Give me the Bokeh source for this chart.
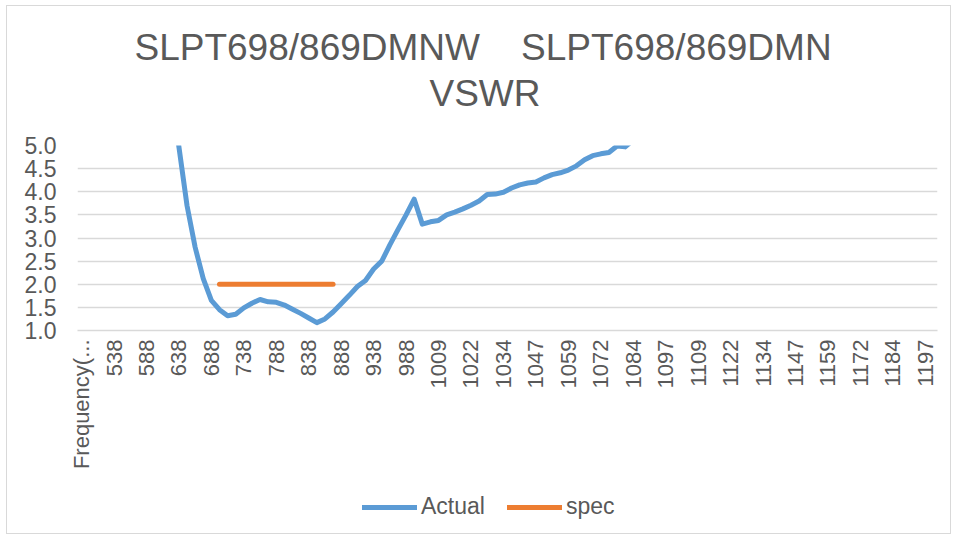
import json
import math
from bokeh.plotting import figure
from bokeh.layouts import column
from bokeh.models import (ColumnDataSource, FactorRange, Range1d, FixedTicker,
                          PrintfTickFormatter, Legend, LegendItem, Title,
                          CustomJSTickFormatter)
from bokeh.embed import file_html
from bokeh.resources import INLINE

# ---------------- data ----------------
header = "Frequency(MHz)"
header_label = "Frequency(..."

freqs = [500, 512.5, 525, 537.5, 550, 562.5, 575, 587.5, 600, 612.5, 625, 637.5,
         650, 662.5, 675, 687.5, 700, 712.5, 725, 737.5, 750, 762.5, 775, 787.5,
         800, 812.5, 825, 837.5, 850, 862.5, 875, 887.5, 900, 912.5, 925, 937.5,
         950, 962.5, 975, 987.5, 1000,
         1003.125, 1006.25, 1009.375, 1012.5, 1015.625, 1018.75, 1021.875, 1025,
         1028.125, 1031.25, 1034.375, 1037.5, 1040.625, 1043.75, 1046.875, 1050,
         1053.125, 1056.25, 1059.375, 1062.5, 1065.625, 1068.75, 1071.875, 1075,
         1078.125, 1081.25, 1084.375, 1087.5, 1090.625, 1093.75, 1096.875, 1100,
         1103.125, 1106.25, 1109.375, 1112.5, 1115.625, 1118.75, 1121.875, 1125,
         1128.125, 1131.25, 1134.375, 1137.5, 1140.625, 1143.75, 1146.875, 1150,
         1153.125, 1156.25, 1159.375, 1162.5, 1165.625, 1168.75, 1171.875, 1175,
         1178.125, 1181.25, 1184.375, 1187.5, 1190.625, 1193.75, 1196.875, 1200]

N = None
actual = [N, N, N, N, N, N, N, N, N, N,
          6.3, 4.97, 3.7, 2.8, 2.12, 1.65, 1.45, 1.32, 1.35, 1.49,
          1.59, 1.67, 1.62, 1.61, 1.55, 1.46, 1.37, 1.27, 1.17, 1.25,
          1.40, 1.58, 1.76, 1.95, 2.08, 2.33, 2.5, 2.85, 3.18, 3.5,
          3.84, 3.30, 3.35, 3.38, 3.5, 3.56, 3.63, 3.71, 3.80, 3.94,
          3.95, 3.99, 4.08, 4.15, 4.19, 4.21, 4.30, 4.37, 4.41, 4.47,
          4.56, 4.69, 4.78, 4.82, 4.85, 4.99, 4.97, 5.12,
          N, N, N, N, N, N, N, N, N, N, N, N, N, N, N, N, N, N, N,
          N, N, N, N, N, N, N, N, N, N, N, N, N, N, N, N, N, N]

spec_freqs = [700, 712.5, 725, 737.5, 750, 762.5, 775, 787.5, 800, 812.5,
              825, 837.5, 850, 862.5, 875]
spec_vals = [2.0, 2.0, 2.0, 2.0, 2.0, 2.0, 2.0, 2.0, 2.0, 2.0,
             2.0, 2.0, 2.0, 2.0, 2.0]

y_ticks = [1.0, 1.5, 2.0, 2.5, 3.0, 3.5, 4.0, 4.5, 5.0]
NB = "\u00a0"
title_line1 = "SLPT698/869DMNW" + NB * 4 + "SLPT698/869DMN"
title_line2 = "VSWR"
series_names = ["Actual", "spec"]
series_colors = ["#5B9BD5", "#ED7D31"]


def fkey(f):
    return ("%.3f" % f).rstrip("0").rstrip(".")


factors = [header] + [fkey(f) for f in freqs]
tick_labels = {}
for i, fac in enumerate(factors):
    if i == 0:
        tick_labels[fac] = header_label
    elif i % 4 == 0:
        tick_labels[fac] = str(int(freqs[i - 1] + 0.5))

src_actual = ColumnDataSource(dict(
    x=[fkey(f) for f in freqs],
    y=[float("nan") if v is None else v for v in actual]))
src_spec = ColumnDataSource(dict(x=[fkey(f) for f in spec_freqs], y=spec_vals))

TXT = "#595959"
FONT = "Liberation Sans"
W = 943
H1 = 470
H2 = 57

p = figure(width=W, height=H1, output_backend="svg", toolbar_location=None,
           x_range=FactorRange(*factors, range_padding=0),
           y_range=Range1d(1.0, 5.0),
           min_border_left=70, min_border_right=13,
           min_border_top=139, min_border_bottom=H1 - 324)
p.title = None
p.outline_line_color = None
p.background_fill_color = "white"
p.border_fill_color = "white"

r1 = p.line("x", "y", source=src_actual, line_color=series_colors[0], line_width=5,
            line_join="round", line_cap="round")
r2 = p.line("x", "y", source=src_spec, line_color=series_colors[1], line_width=5,
            line_join="round", line_cap="round")

# grid
p.xgrid.visible = False
p.ygrid.grid_line_color = "#D9D9D9"
p.ygrid.grid_line_width = 1.3

# y axis
p.yaxis.ticker = FixedTicker(ticks=y_ticks)
p.yaxis.formatter = PrintfTickFormatter(format="%.1f")
p.yaxis.axis_line_color = None
p.yaxis.major_tick_line_color = None
p.yaxis.minor_tick_line_color = None
p.yaxis.major_tick_out = 0
p.yaxis.major_label_standoff = 21
p.yaxis.major_label_text_font = FONT
p.yaxis.major_label_text_font_size = "23px"
p.yaxis.major_label_text_color = TXT

# x axis
p.xaxis.formatter = CustomJSTickFormatter(
    code="const m = %s; return (tick in m) ? m[tick] : '';" % json.dumps(tick_labels))
p.xaxis.major_label_orientation = math.pi / 2
p.xaxis.axis_line_color = "#D9D9D9"
p.xaxis.axis_line_width = 1.3
p.xaxis.major_tick_line_color = None
p.xaxis.minor_tick_line_color = None
p.xaxis.major_tick_out = 0
p.xaxis.major_label_standoff = 9
p.xaxis.major_label_text_font = FONT
p.xaxis.major_label_text_font_size = "22px"
p.xaxis.major_label_text_color = TXT

# titles: spacer (closest to frame), line 2, line 1
spacer = Title(text=NB, text_font_size="1px", standoff=25)
t2 = Title(text=title_line2, align="left", offset=352, text_font=FONT,
           text_font_size="37px", text_color=TXT, text_font_style="normal",
           standoff=7)
t1 = Title(text=title_line1, align="left", offset=57, text_font=FONT,
           text_font_size="37px", text_color=TXT, text_font_style="normal",
           standoff=0)
p.add_layout(spacer, "above")
p.add_layout(t2, "above")
p.add_layout(t1, "above")

# legend strip
q = figure(width=W, height=H2, output_backend="svg", toolbar_location=None,
           x_axis_location=None, y_axis_location=None,
           x_range=Range1d(0, 1), y_range=Range1d(0, 1),
           min_border_left=0, min_border_right=0, min_border_top=0,
           min_border_bottom=0)
q.title = None
q.outline_line_color = None
q.grid.visible = False
q.background_fill_color = "white"
q.border_fill_color = "white"
k1 = q.line(x=[float("nan")], y=[float("nan")], line_color=series_colors[0],
            line_width=5, line_cap="round")
k2 = q.line(x=[float("nan")], y=[float("nan")], line_color=series_colors[1],
            line_width=5, line_cap="round")

legend = Legend(items=[LegendItem(label=series_names[0], renderers=[k1]),
                       LegendItem(label=series_names[1], renderers=[k2])],
                orientation="horizontal", location=(285, 13),
                glyph_width=55, glyph_height=20, label_height=20,
                label_standoff=4, spacing=22, padding=0, margin=0,
                border_line_color=None, background_fill_alpha=0,
                label_text_font=FONT, label_text_font_size="23px",
                label_text_color=TXT)
q.add_layout(legend, "center")

layout = column(p, q, spacing=0,
                styles={"border": "1px solid #D9D9D9", "margin-left": "6px",
                        "margin-top": "5px"})

open("out.html", "w").write(file_html(layout, INLINE))
